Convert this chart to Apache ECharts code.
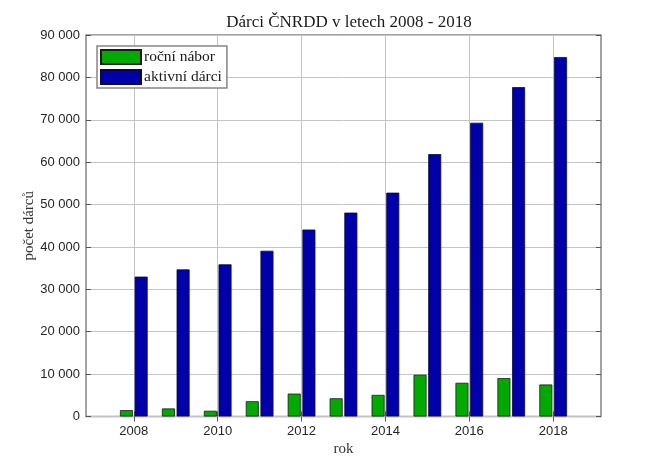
<!DOCTYPE html>
<html>
<head>
<meta charset="utf-8">
<script src="https://cdn.jsdelivr.net/npm/echarts@6/dist/echarts.min.js"></script>
<style>
html,body{margin:0;padding:0;background:#fff;}
#chart{width:664px;height:469px;}
</style>
</head>
<body>
<div id="chart"></div>
<script>
const years = [2008, 2009, 2010, 2011, 2012, 2013, 2014, 2015, 2016, 2017, 2018];
const rocniNabor = [1500, 1900, 1350, 3600, 5400, 4300, 5100, 9850, 7950, 9050, 7550];
const aktivniDarci = [33000, 34700, 35900, 39100, 44100, 48100, 52800, 61900, 69300, 77700, 84800];
const xTickValues = [2008, 2010, 2012, 2014, 2016, 2018];
const seriesNames = ['roční nábor', 'aktivní dárci'];
const titleText = 'Dárci ČNRDD v letech 2008 - 2018';
const xName = 'rok';
const yName = 'počet dárců';

const serif = '"Liberation Serif", "DejaVu Serif", serif';
const sans = '"Liberation Sans", Arial, sans-serif';
const gridColor = '#c4c4c4';
const frameColor = '#858585';
const tickColor = '#555555';

function fmt(v) {
  return String(v).replace(/\B(?=(\d{3})+(?!\d))/g, ' ');
}

const chart = echarts.init(document.getElementById('chart'), null, {renderer: 'canvas'});
chart.setOption({
  animation: false,
  backgroundColor: '#ffffff',
  title: {
    text: titleText,
    left: 344, textAlign: 'center', top: 9,
    textStyle: {fontFamily: serif, fontSize: 17, fontWeight: 'normal', color: '#1a1a1a'}
  },
  legend: {
    orient: 'vertical',
    left: 97, top: 46,
    padding: [3, 5, 3, 3],
    itemWidth: 40, itemHeight: 14, itemGap: 4,
    backgroundColor: '#fff',
    borderColor: frameColor, borderWidth: 1.5,
    textStyle: {fontFamily: serif, fontSize: 15.5, color: '#1a1a1a', padding: [0,0,0,-2]},
    data: seriesNames.map(n => ({name: n, icon: 'rect'}))
  },
  grid: {
    left: 86, top: 35, width: 515, height: 381.5,
    show: true, borderColor: frameColor, borderWidth: 1.5, backgroundColor: '#fff'
  },
  xAxis: [{
    type: 'value', min: 2006.86, max: 2019.14,
    name: xName, nameLocation: 'middle', nameGap: 25, nameMoveOverlap: false,
    nameTextStyle: {fontFamily: serif, fontSize: 15, color: '#333'},
    axisLine: {show: false},
    axisTick: {show: true, inside: true, length: 5, customValues: xTickValues, lineStyle: {color: tickColor}},
    axisLabel: {customValues: xTickValues, margin: 8, fontFamily: sans, fontSize: 13, color: '#262626', formatter: v => String(v)},
    splitLine: {show: true, lineStyle: {color: gridColor, width: 1}}
  }, {
    type: 'value', position: 'top', min: 2006.86, max: 2019.14,
    axisLine: {show: false},
    axisTick: {show: true, inside: true, length: 5, customValues: xTickValues, lineStyle: {color: tickColor}},
    axisLabel: {show: false, customValues: xTickValues},
    splitLine: {show: false}
  }],
  yAxis: [{
    type: 'value', min: 0, max: 90000, interval: 10000,
    name: yName, nameLocation: 'middle', nameGap: 49, nameMoveOverlap: false,
    nameTextStyle: {fontFamily: serif, fontSize: 15, color: '#333'},
    axisLine: {show: false},
    axisTick: {show: true, inside: true, length: 5, lineStyle: {color: tickColor}},
    axisLabel: {margin: 6, fontFamily: sans, fontSize: 13, color: '#262626', formatter: fmt},
    splitLine: {show: true, lineStyle: {color: gridColor, width: 1}}
  }, {
    type: 'value', position: 'right', min: 0, max: 90000, interval: 10000,
    axisLine: {show: false},
    axisTick: {show: true, inside: true, length: 5, lineStyle: {color: tickColor}},
    axisLabel: {show: false},
    splitLine: {show: false}
  }],
  series: [{
    name: seriesNames[0], type: 'bar', xAxisIndex: 0, yAxisIndex: 0,
    barWidth: 13, barGap: '13%',
    itemStyle: {color: '#00aa00', borderColor: '#1a1a1a', borderWidth: 0.8},
    data: years.map((y, i) => [y, rocniNabor[i]])
  }, {
    name: seriesNames[1], type: 'bar', xAxisIndex: 0, yAxisIndex: 0,
    barWidth: 13, barGap: '13%',
    itemStyle: {color: '#0000aa', borderColor: '#0a0a40', borderWidth: 0.8},
    data: years.map((y, i) => [y, aktivniDarci[i]])
  }]
});
</script>
</body>
</html>
